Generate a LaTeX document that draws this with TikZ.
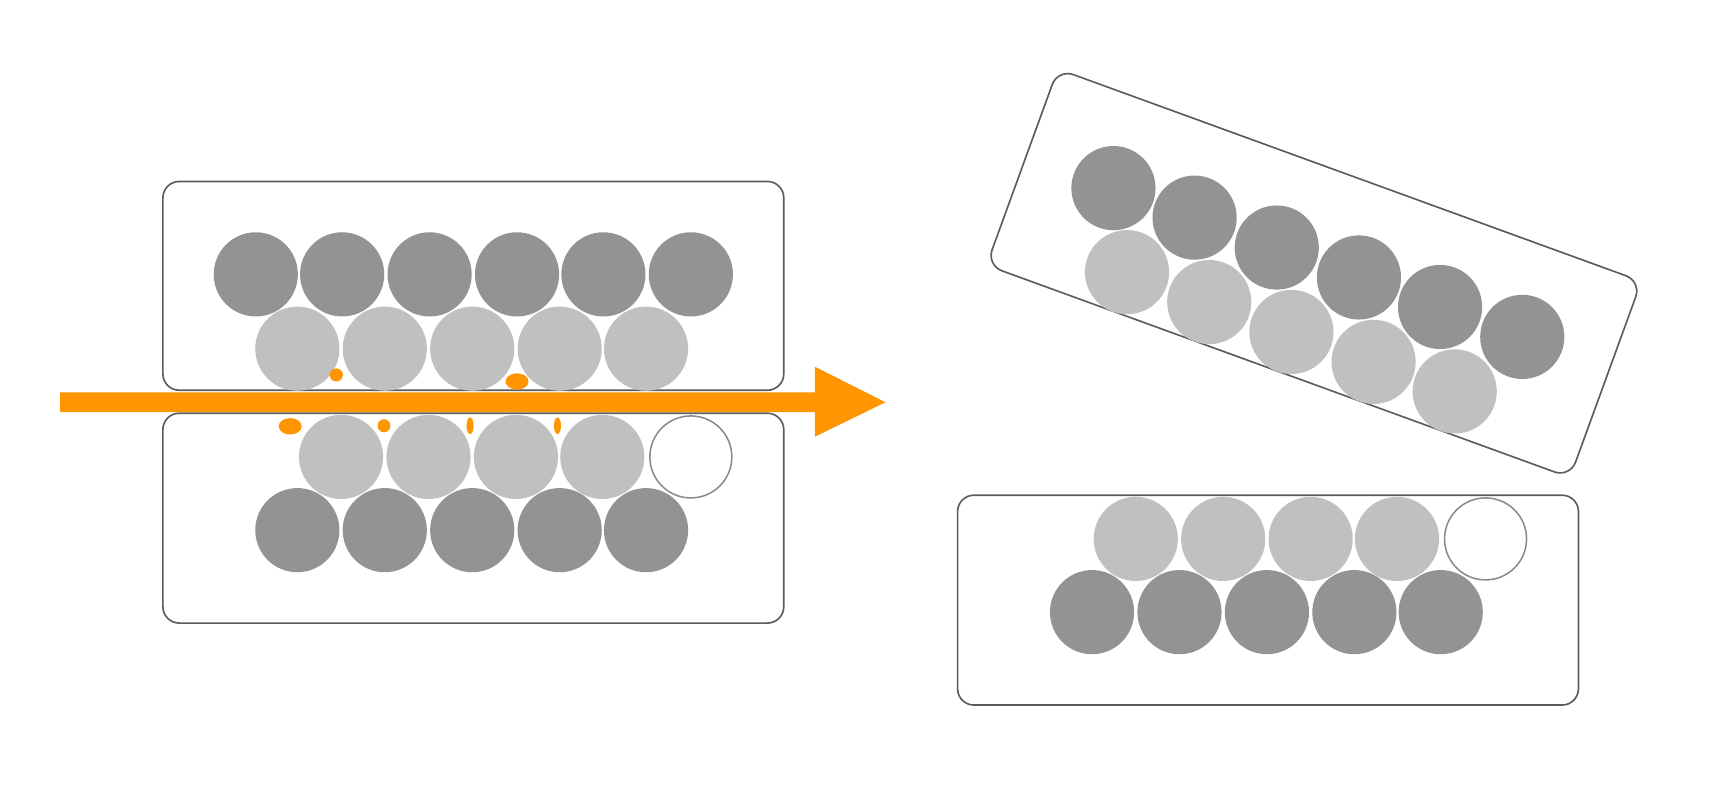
\documentclass[tikz,border=0pt]{standalone}
\usetikzlibrary{calc}
\definecolor{dk}{HTML}{939393}
\definecolor{lt}{HTML}{C0C0C0}
\definecolor{org}{HTML}{FF9500}
\definecolor{frame}{HTML}{5C5C5C}
\definecolor{ring}{HTML}{8A8A8A}
\begin{document}
\begin{tikzpicture}[x=1pt,y=-1pt,
  box/.style={draw=frame, line width=1.5pt, rounded corners=15pt},
  darkball/.style={circle, fill=dk, minimum size=77pt, inner sep=0pt, outer sep=0pt},
  lightball/.style={circle, fill=lt, minimum size=77pt, inner sep=0pt, outer sep=0pt},
  emptyball/.style={circle, draw=ring, line width=1.4pt, fill=white, minimum size=75pt, inner sep=0pt},
  drop/.style={fill=org}]
\useasboundingbox (0,0) rectangle (1568,727);

% ---------- upper-left holder ----------
\draw[box] (149,166) -- (717,166) -- (717,357) -- (149,357) -- cycle;
\foreach \x [count=\i] in {234,313,393,473,552,632}
  \node[darkball] (ud\i) at (\x,251) {};
\foreach \x [count=\i] in {272,352,432,512,591}
  \node[lightball] (ul\i) at (\x,319) {};

% ---------- lower-left holder ----------
\draw[box] (149,378) -- (717,378) -- (717,570) -- (149,570) -- cycle;
\foreach \x [count=\i] in {312,392,472,551}
  \node[lightball] (ll\i) at (\x,418) {};
\node[emptyball] (le) at (632,418) {};
\foreach \x [count=\i] in {272,352,432,512,591}
  \node[darkball] (ld\i) at (\x,485) {};

% ---------- orange flow arrow ----------
\coordinate (aS) at (55,368);
\coordinate (aB) at (745.5,368);
\coordinate (aT) at (810,368);
\fill[org] ($(aS)+(0,-9)$) -- ($(aB)+(0,-9)$) -- ($(aB)+(0,-32.5)$) -- (aT)
  -- ($(aB)+(0,31.5)$) -- ($(aB)+(0,9)$) -- ($(aS)+(0,9)$) -- cycle;

% ---------- orange drops ----------
\fill[drop] (307.7,343) circle (6pt);
\fill[drop] (473,349) ellipse [x radius=10.5pt, y radius=7.5pt];
\fill[drop] (265.5,390) ellipse [x radius=10.5pt, y radius=7.5pt];
\fill[drop] (351.3,389.5) ellipse [x radius=5.8pt, y radius=6pt];
\fill[drop] (430,389.5) ellipse [x radius=3.2pt, y radius=7.6pt];
\fill[drop] (510,389.5) ellipse [x radius=3.2pt, y radius=7.6pt];

% ---------- tilted upper-right holder ----------
\begin{scope}[shift={(1202,250)}, rotate=-20, shift={(-433,-261.5)}]
\draw[box] (149,166) -- (717,166) -- (717,357) -- (149,357) -- cycle;
\foreach \x [count=\i] in {234,313,393,473,552,632}
  \node[darkball] (rd\i) at (\x,251) {};
\foreach \x [count=\i] in {272,352,432,512,591}
  \node[lightball] (rl\i) at (\x,319) {};
\end{scope}

% ---------- lower-right holder ----------
\begin{scope}[shift={(727,75)}]
\draw[box] (149,378) -- (717,378) -- (717,570) -- (149,570) -- cycle;
\foreach \x [count=\i] in {312,392,472,551}
  \node[lightball] (sl\i) at (\x,418) {};
\node[emptyball] (se) at (632,418) {};
\foreach \x [count=\i] in {272,352,432,512,591}
  \node[darkball] (sd\i) at (\x,485) {};
\end{scope}
\end{tikzpicture}
\end{document}
